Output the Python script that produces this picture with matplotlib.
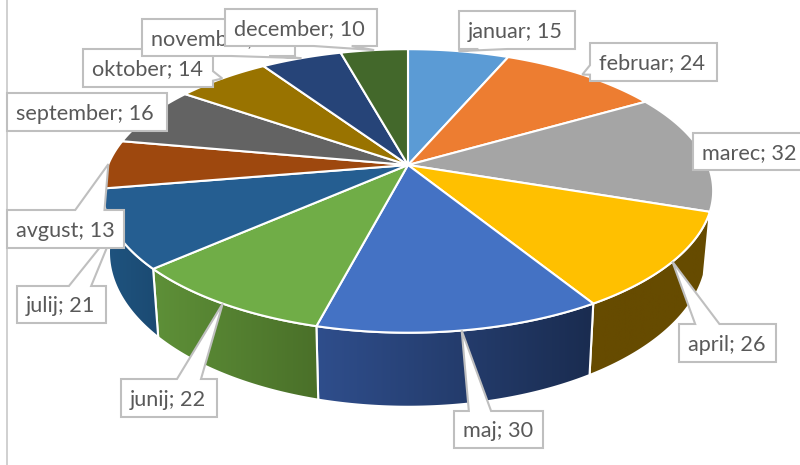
import numpy as np
import matplotlib
matplotlib.use('Agg')
import matplotlib.pyplot as plt
from matplotlib.colors import LinearSegmentedColormap
from matplotlib.patches import Polygon

months = ['januar', 'februar', 'marec', 'april', 'maj', 'junij', 'julij',
          'avgust', 'september', 'oktober', 'november', 'december']
values = [15, 24, 32, 26, 30, 22, 21, 13, 16, 14, 12, 10]

top_colors = ['#5B9BD5', '#ED7D31', '#A5A5A5', '#FFC000', '#4472C4', '#70AD47',
              '#255E91', '#9E480E', '#636363', '#997300', '#264478', '#43682B']
# side colours, left and right end of the shading
side_colors = [('#3A6EA5', '#3A6EA5'), ('#A85820', '#A85820'), ('#707070', '#707070'),
               ('#664B00', '#664B00'), ('#2F4E8C', '#1A2C50'), ('#5E9038', '#4A7029'),
               ('#1F5480', '#1B4A72'), ('#6A300A', '#6A300A'), ('#444444', '#444444'),
               ('#664D00', '#664D00'), ('#1A2E52', '#1A2E52'), ('#2D461D', '#2D461D')]

# label boxes in pixels: left, top, right, bottom
boxes = [(459, 11, 575, 49), (590, 43, 717, 81), (693, 133, 812, 170), (679, 324, 776, 362),
         (454, 411, 543, 448), (121, 379, 217, 417), (17, 286, 106, 323), (7, 210, 124, 248),
         (7, 93, 167, 131), (83, 49, 213, 87), (142, 19, 295, 56), (225, 9, 377, 46)]

plt.rcParams['font.family'] = ['Lato', 'DejaVu Sans']

# perspective of the pie, fitted on the picture
cx, cy = 408, 165
a, b, k = 300, 137, 0.183
edges = np.cumsum([0] + values) / sum(values) * 2 * np.pi


def top_xy(theta):
    d = 1 + k * np.cos(theta)
    return cx + a * np.sin(theta) / d, cy - b * np.cos(theta) / d


def bottom_xy(theta):
    x, y = top_xy(theta)
    return cx + 0.98 * (x - cx), 224 + 1.09 * (y - cy)


def callout(box, tip):
    # same shape as the Office wedge callout
    l, t, r, bt = box
    w, h = r - l, bt - t
    tx, ty = tip
    dx = (tx - (l + r) / 2) / w
    dy = (ty - (t + bt) / 2) / h
    if abs(dx) <= 0.5 and abs(dy) <= 0.5:
        return [(l, t), (r, t), (r, bt), (l, bt)]
    fx = (2 / 12, 5 / 12) if dx < 0 else (7 / 12, 10 / 12)
    fy = (2 / 12, 5 / 12) if dy < 0 else (7 / 12, 10 / 12)
    if abs(dy) >= abs(dx):
        if dy < 0:
            return [(l, t), (l + fx[0] * w, t), tip, (l + fx[1] * w, t), (r, t), (r, bt), (l, bt)]
        return [(l, t), (r, t), (r, bt), (l + fx[1] * w, bt), tip, (l + fx[0] * w, bt), (l, bt)]
    if dx < 0:
        return [(l, t), (r, t), (r, bt), (l, bt), (l, t + fy[1] * h), tip, (l, t + fy[0] * h)]
    return [(l, t), (r, t), (r, t + fy[0] * h), tip, (r, t + fy[1] * h), (r, bt), (l, bt)]


fig = plt.figure(figsize=(8, 4.65), dpi=100)
ax = fig.add_axes([0, 0, 1, 1])
ax.axis('off')

# chart border on the left
ax.plot([7, 7], [0, 465], color='#D0D0D0', lw=1.4, zorder=1)

# sides
for i in range(len(values)):
    th = np.linspace(edges[i], edges[i + 1], 80)
    xt, yt = top_xy(th)
    xb, yb = bottom_xy(th)
    pts = np.column_stack([np.r_[xt, xb[::-1]], np.r_[yt, yb[::-1]]])
    cmap = LinearSegmentedColormap.from_list('side', side_colors[i])
    im = ax.imshow(np.linspace(0, 1, 128).reshape(1, -1), cmap=cmap, aspect='auto',
                   extent=(pts[:, 0].min(), pts[:, 0].max(), pts[:, 1].max(), pts[:, 1].min()),
                   zorder=2 + i * 0.01)
    clip = Polygon(pts, closed=True, transform=ax.transData)
    im.set_clip_path(clip)
    ax.add_patch(Polygon(pts, closed=True, fill=False, edgecolor='white', lw=1.5,
                         zorder=2 + i * 0.01))

# top
for i in range(len(values)):
    th = np.linspace(edges[i], edges[i + 1], 80)
    xt, yt = top_xy(th)
    ax.fill(np.r_[cx, xt], np.r_[cy, yt], color=top_colors[i], ec='white', lw=1.5, zorder=3)

# labels
for i, (m, v) in enumerate(zip(months, values)):
    tip = top_xy((edges[i] + edges[i + 1]) / 2)
    ax.add_patch(Polygon(callout(boxes[i], tip), closed=True, fc='white', ec='#BFBFBF',
                         lw=1.5, zorder=4 + i * 0.01))
    l, t, r, bt = boxes[i]
    ax.text(l + 9, (t + bt) / 2 + 1.5, f'{m}; {v}', color='#595959', fontsize=15.6,
            ha='left', va='center', zorder=4 + i * 0.01)

ax.set_xlim(0, 800)
ax.set_ylim(465, 0)
fig.savefig('out.png', dpi=100)
